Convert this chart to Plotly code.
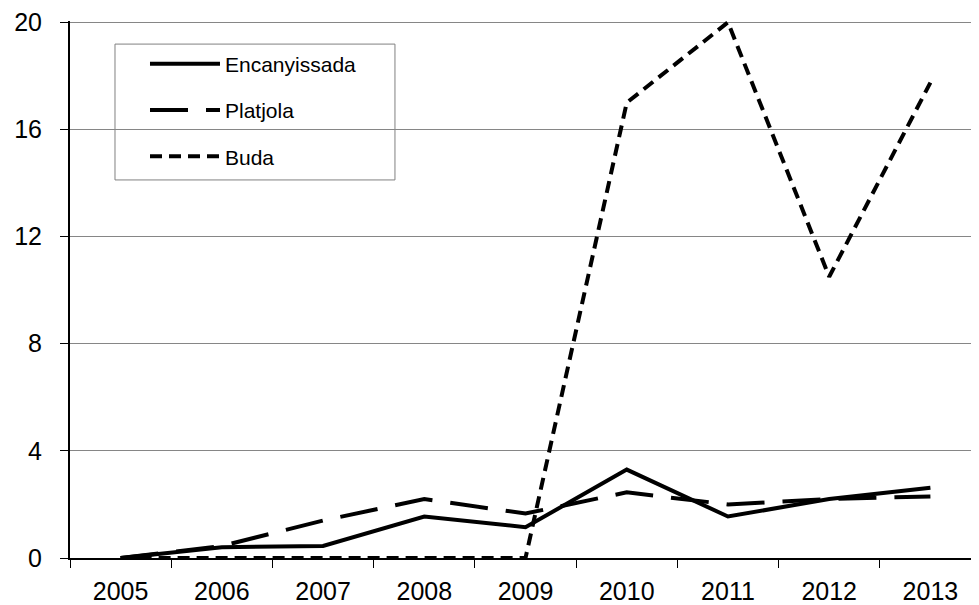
import plotly.graph_objects as go

years = ["2005", "2006", "2007", "2008", "2009", "2010", "2011", "2012", "2013"]
encanyissada = [0, 0.4, 0.45, 1.55, 1.15, 3.3, 1.55, 2.2, 2.62]
platjola = [0, 0.45, 1.4, 2.2, 1.66, 2.45, 2.0, 2.2, 2.3]
buda = [0, 0, 0, 0, 0, 17.0, 20.0, 10.5, 17.75]
y_ticks = [0, 4, 8, 12, 16, 20]

fig = go.Figure()
fig.add_trace(go.Scatter(x=years, y=encanyissada, name="Encanyissada", mode="lines",
                         line=dict(color="black", width=4), legendgroup="a"))
fig.add_trace(go.Scatter(x=years, y=platjola, name="Platjola", mode="lines",
                         line=dict(color="black", width=4, dash="38px,18px"), legendgroup="b"))
fig.add_trace(go.Scatter(x=years, y=buda, name="Buda", mode="lines",
                         line=dict(color="black", width=4, dash="12px,7px"), legendgroup="c",
                         cliponaxis=False))

# legend frame (plot area: x 70..979, y 13..550 in figure px -> page 21..558)
fig.add_shape(type="rect", xref="paper", yref="paper",
              x0=0.0495, x1=0.3575, y0=0.704, y1=0.957,
              fillcolor="white", line=dict(color="#808080", width=1), layer="between")

fig.update_layout(
    width=971, height=597,
    margin=dict(l=62, r=0, t=13, b=47),
    paper_bgcolor="white", plot_bgcolor="white",
    font=dict(family="Liberation Sans, Arial, sans-serif", color="black"),
    showlegend=True,
    legend=dict(x=0.0825, y=0.958, xanchor="left", yanchor="top",
                bgcolor="rgba(0,0,0,0)", borderwidth=0,
                font=dict(size=21), itemwidth=70, tracegroupgap=16,
                traceorder="grouped"),
    xaxis=dict(type="category", range=[-0.5, 8.48], tickson="boundaries",
               ticks="outside", ticklen=8, tickcolor="black",
               showline=True, linecolor="black", linewidth=2,
               showgrid=False, tickfont=dict(size=25), ticklabelstandoff=10,
               fixedrange=True),
    yaxis=dict(range=[0, 20.05], tickvals=y_ticks, ticks="outside", ticklen=8,
               tickcolor="black", showline=True, linecolor="black", linewidth=2,
               showgrid=True, gridcolor="#868686", gridwidth=1, zeroline=False,
               tickfont=dict(size=25), ticklabelstandoff=13, fixedrange=True),
)

fig.write_html("out.html")
